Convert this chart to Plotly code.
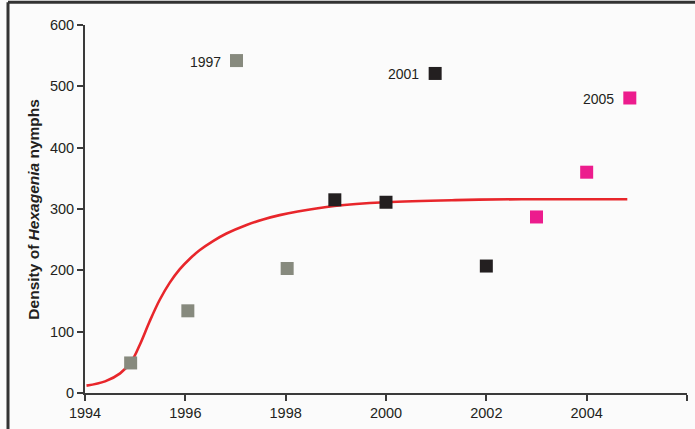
import plotly.graph_objects as go

# Observed densities
years_gray = [1994.91, 1996.05, 1997.02, 1998.03]
dens_gray = [49, 134, 542, 203]
years_black = [1998.98, 2000.0, 2000.98, 2002.0]
dens_black = [315, 311, 521, 207]
years_pink = [2003.0, 2004.0, 2004.86]
dens_pink = [287, 360, 481]

# Fitted curve
curve_x = [1994.03, 1994.40, 1994.70, 1994.93, 1995.10, 1995.29, 1995.49, 1995.69, 1995.89, 1996.09,
           1996.29, 1996.56, 1996.82, 1997.22, 1997.55, 1997.88, 1998.24, 1998.97, 1999.99,
           2001.38, 2002.70, 2004.81]
curve_y = [12, 19, 32, 52, 80, 117, 152, 180, 202, 219,
           233, 248, 260, 274, 283, 290, 296, 305, 311,
           314.5, 316, 316]

x_ticks = [1994, 1996, 1998, 2000, 2002, 2004, 2006]
x_tick_labels = ["1994", "1996", "1998", "2000", "2002", "2004", ""]
y_ticks = [0, 100, 200, 300, 400, 500, 600]

labels = ["1997", "2001", "2005"]
label_x = [1997.02, 2000.98, 2004.86]
label_y = [542, 521, 481]

FONT = "Liberation Sans, Arial, sans-serif"
TXT = "#231f20"

fig = go.Figure()
fig.add_trace(go.Scatter(x=curve_x, y=curve_y, mode="lines",
                         line=dict(color="#e8262b", width=2.6, shape="spline", smoothing=1.0), hoverinfo="skip"))
fig.add_trace(go.Scatter(x=years_gray, y=dens_gray, mode="markers", marker=dict(symbol="square", size=13, color="#878a7e")))
fig.add_trace(go.Scatter(x=years_black, y=dens_black, mode="markers", marker=dict(symbol="square", size=13, color="#231f20")))
fig.add_trace(go.Scatter(x=years_pink, y=dens_pink, mode="markers", marker=dict(symbol="square", size=13, color="#ec1c8d")))

for t, xv, yv in zip(labels, label_x, label_y):
    fig.add_annotation(x=xv, y=yv, text=t, showarrow=False, xanchor="right", xshift=-14, yshift=-1,
                       font=dict(family=FONT, size=14, color=TXT))

fig.add_annotation(xref="paper", yref="paper", x=-0.087, y=0.5, textangle=-90,
                   text="<b>Density of <i>Hexagenia</i> nymphs</b>", showarrow=False,
                   font=dict(family=FONT, size=15.5, color=TXT), xanchor="center", yanchor="middle")

# Outer frame (top and left lines)
fig.add_shape(type="line", xref="paper", yref="paper", x0=-0.1279, x1=1.02, y0=1.0618, y1=1.0618,
              line=dict(color="#333333", width=3))
fig.add_shape(type="line", xref="paper", yref="paper", x0=-0.1279, x1=-0.1279, y0=1.0618, y1=-0.1,
              line=dict(color="#333333", width=3))

fig.update_layout(
    width=695, height=429,
    margin=dict(l=85, r=8, t=25, b=32),
    paper_bgcolor="#fbfbfb", plot_bgcolor="rgba(0,0,0,0)",
    showlegend=False,
    font=dict(family=FONT, size=14, color=TXT),
    xaxis=dict(range=[1994, 2006], tickvals=x_ticks, ticktext=x_tick_labels, showgrid=False, zeroline=False,
               showline=True, linecolor="#3a3a3a", linewidth=2, ticks="outside", ticklen=6, tickwidth=2,
               tickcolor="#3a3a3a", tickfont=dict(family=FONT, size=14.5, color=TXT)),
    yaxis=dict(range=[0, 600], tickvals=y_ticks, showgrid=False, zeroline=False,
               showline=True, linecolor="#3a3a3a", linewidth=2, ticks="outside", ticklen=6, tickwidth=2,
               tickcolor="#3a3a3a", tickfont=dict(family=FONT, size=14.5, color=TXT)),
)

fig.write_html("out.html", config={"displayModeBar": False},
               post_script="document.body.style.margin='0';document.body.style.overflow='hidden';")
